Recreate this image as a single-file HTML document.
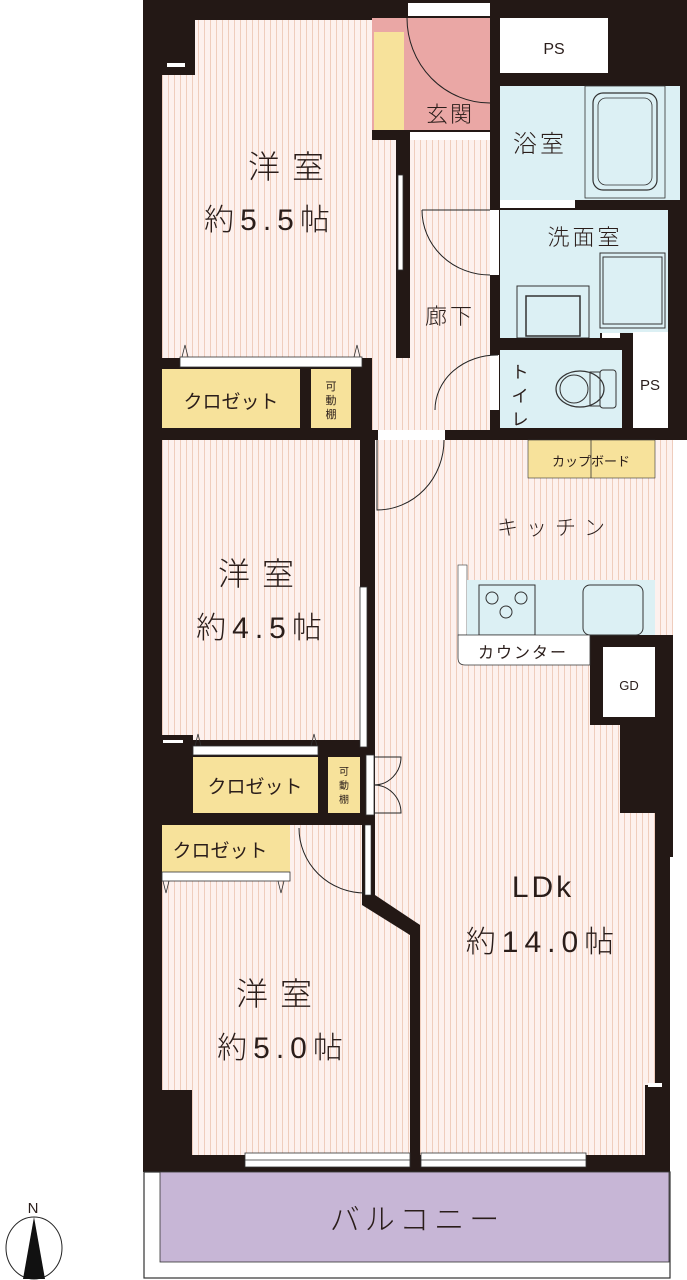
<!DOCTYPE html>
<html><head><meta charset="utf-8"><style>
html,body{margin:0;padding:0;background:#fff;}
svg{display:block;}
text{font-family:"Liberation Sans","Noto Sans CJK JP",sans-serif;fill:#2a1d1a;}
.big{font-weight:300;letter-spacing:6px;}
</style></head><body>
<svg width="687" height="1280" viewBox="0 0 687 1280" xmlns="http://www.w3.org/2000/svg">
<defs>
<pattern id="st" width="6" height="10" patternUnits="userSpaceOnUse">
<rect width="6" height="10" fill="#fdf1ee"/><rect x="0" width="1" height="10" fill="#efcdbd"/>
</pattern>
</defs>
<rect x="143" y="0" width="544" height="1172" fill="#231815"/>
<rect x="673" y="440" width="14" height="417" fill="#fff"/>
<rect x="670" y="857" width="17" height="315" fill="#fff"/>
<rect x="655" y="857" width="15" height="315" fill="#231815"/>
<polygon points="162,75 195,75 195,20 372,20 372,140 396,140 396,358 162,358" fill="url(#st)"/>
<rect x="167" y="63" width="18" height="4" fill="#fff"/>
<rect x="398" y="175" width="5" height="95" fill="#fff" stroke="#333" stroke-width="0.8"/>
<rect x="180" y="357" width="182" height="10" fill="#fff" stroke="#333" stroke-width="0.8"/>
<path d="M182,357 l3,-12 l3,12 M354,357 l3,-12 l3,12" fill="none" stroke="#333" stroke-width="0.8"/>
<rect x="162" y="369" width="138" height="59" fill="#f7e29b"/>
<rect x="311" y="369" width="40" height="59" fill="#f7e29b"/>
<text x="231" y="408" font-size="19" text-anchor="middle">クロゼット</text>
<text x="331" y="390" font-size="11" text-anchor="middle">可</text>
<text x="331" y="404" font-size="11" text-anchor="middle">動</text>
<text x="331" y="418" font-size="11" text-anchor="middle">棚</text>
<polygon points="410,140 490,140 490,430 372,430 372,358 410,358" fill="url(#st)"/>
<rect x="372" y="18" width="118" height="112" fill="#eaa7a5"/>
<rect x="374" y="32" width="30" height="98" fill="#f7e29b"/>
<rect x="408" y="3" width="82" height="13" fill="#fff"/>
<rect x="410" y="132" width="80" height="8" fill="#fff"/>
<path d="M407,18 A83,85 0 0 0 490,103" fill="none" stroke="#222" stroke-width="1"/>
<text x="450" y="122" font-size="22" text-anchor="middle" class="big" style="letter-spacing:2px">玄関</text>
<text x="292" y="178" font-size="32" text-anchor="middle" class="big" style="letter-spacing:12px">洋室</text>
<text x="270" y="230" font-size="30" text-anchor="middle" class="big">約5.5帖</text>
<text x="450" y="324" font-size="22" text-anchor="middle" class="big" style="letter-spacing:3px">廊下</text>
<rect x="490" y="210" width="9" height="65" fill="#fff"/>
<path d="M422,210 L490,210 M422,210 A68,65 0 0 0 490,275" fill="none" stroke="#222" stroke-width="1"/>
<rect x="500" y="18" width="108" height="55" fill="#fff"/>
<text x="554" y="54" font-size="16" text-anchor="middle">PS</text>
<rect x="500" y="86" width="180" height="114" fill="#dcf0f4"/>
<rect x="585" y="86" width="80" height="112" fill="#dcf0f4" stroke="#333" stroke-width="0.8"/>
<rect x="593" y="93" width="64" height="97" rx="10" fill="none" stroke="#333" stroke-width="1.2"/>
<rect x="598" y="98" width="54" height="87" rx="8" fill="none" stroke="#333" stroke-width="0.8"/>
<rect x="500" y="200" width="75" height="8" fill="#fff"/>
<text x="540" y="152" font-size="24" text-anchor="middle" class="big" style="letter-spacing:3px">浴室</text>
<rect x="500" y="210" width="168" height="128" fill="#dcf0f4"/>
<text x="585" y="245" font-size="22" text-anchor="middle" class="big" style="letter-spacing:3px">洗面室</text>
<rect x="600" y="253" width="65" height="75" fill="none" stroke="#333" stroke-width="1"/>
<rect x="603" y="257" width="59" height="67" fill="none" stroke="#333" stroke-width="1"/>
<rect x="517" y="286" width="72" height="52" fill="none" stroke="#333" stroke-width="1"/>
<rect x="526" y="296" width="54" height="40" fill="none" stroke="#333" stroke-width="1.5"/>
<rect x="600" y="333" width="68" height="12" fill="#231815"/>
<rect x="602" y="333" width="18" height="6" fill="#fff"/>
<rect x="500" y="338" width="168" height="12" fill="#231815"/>
<rect x="500" y="350" width="122" height="78" fill="#dcf0f4"/>
<rect x="490" y="355" width="9" height="55" fill="#fff"/>
<path d="M435,410 A62,55 0 0 1 498,355" fill="none" stroke="#222" stroke-width="1"/>
<ellipse cx="580" cy="389" rx="24" ry="18" fill="none" stroke="#333" stroke-width="1.2"/>
<circle cx="574" cy="389" r="14" fill="none" stroke="#333" stroke-width="1"/>
<rect x="590" y="372" width="10" height="34" fill="none" stroke="#333"/>
<rect x="600" y="370" width="16" height="38" rx="3" fill="none" stroke="#333"/>
<text x="520" y="378" font-size="17" text-anchor="middle">ト</text>
<text x="520" y="402" font-size="17" text-anchor="middle">イ</text>
<text x="520" y="425" font-size="17" text-anchor="middle">レ</text>
<rect x="633" y="332" width="35" height="96" fill="#fff"/>
<text x="650" y="390" font-size="15" text-anchor="middle">PS</text>
<rect x="162" y="440" width="198" height="300" fill="url(#st)"/>
<rect x="360" y="587" width="7" height="160" fill="#fff" stroke="#333" stroke-width="0.8"/>
<text x="262" y="585" font-size="32" text-anchor="middle" class="big" style="letter-spacing:12px">洋室</text>
<text x="262" y="638" font-size="30" text-anchor="middle" class="big">約4.5帖</text>
<rect x="162" y="735" width="31" height="80" fill="#231815"/>
<rect x="163" y="740" width="20" height="3" fill="#fff"/>
<rect x="193" y="746" width="125" height="9" fill="#fff" stroke="#333" stroke-width="0.8"/>
<path d="M195,746 l3,-12 l3,12 M311,746 l3,-12 l3,12" fill="none" stroke="#333" stroke-width="0.8"/>
<rect x="193" y="757" width="125" height="56" fill="#f7e29b"/>
<rect x="328" y="757" width="32" height="56" fill="#f7e29b"/>
<text x="255" y="793" font-size="19" text-anchor="middle">クロゼット</text>
<text x="344" y="775" font-size="10" text-anchor="middle">可</text>
<text x="344" y="789" font-size="10" text-anchor="middle">動</text>
<text x="344" y="803" font-size="10" text-anchor="middle">棚</text>
<polygon points="375,440 673,440 673,635 590,635 590,725 620,725 620,813 655,813 655,1155 420,1155 420,925 375,895" fill="url(#st)"/>
<rect x="645" y="1085" width="10" height="70" fill="#231815"/>
<rect x="378" y="430" width="67" height="10" fill="#fff"/>
<path d="M377,440 L377,510 A67,70 0 0 0 444,440" fill="none" stroke="#222" stroke-width="1"/>
<rect x="366" y="755" width="8" height="60" fill="#fff" stroke="#333" stroke-width="0.8"/>
<path d="M374,757 L401,757 A27,28 0 0 1 374,785 A27,28 0 0 1 401,813 L374,813" fill="none" stroke="#222" stroke-width="1"/>
<rect x="528" y="440" width="127" height="38" fill="#f7e29b" stroke="#333" stroke-width="0.6"/>
<line x1="591" y1="440" x2="591" y2="478" stroke="#333" stroke-width="0.8"/>
<text x="591" y="466" font-size="13" text-anchor="middle">カップボード</text>
<text x="555" y="535" font-size="21" text-anchor="middle" class="big" style="letter-spacing:8px">キッチン</text>
<rect x="458" y="565" width="9" height="70" fill="#fff" stroke="#333" stroke-width="0.6"/>
<rect x="467" y="580" width="188" height="55" fill="#dcf0f4"/>
<rect x="479" y="585" width="56" height="50" fill="none" stroke="#333"/>
<circle cx="492" cy="598" r="6" fill="none" stroke="#333"/><circle cx="521" cy="598" r="6" fill="none" stroke="#333"/><circle cx="506" cy="612" r="6" fill="none" stroke="#333"/>
<rect x="583" y="585" width="60" height="50" rx="7" fill="none" stroke="#333"/>
<path d="M458,635 L590,635 L590,665 L465,665 Q458,665 458,658 Z" fill="#fff" stroke="#333" stroke-width="0.8"/>
<text x="523" y="658" font-size="16" text-anchor="middle" style="letter-spacing:2px">カウンター</text>
<rect x="603" y="647" width="52" height="70" fill="#fff"/>
<text x="629" y="690" font-size="13" text-anchor="middle">GD</text>
<text x="543" y="897" font-size="30" text-anchor="middle" class="big" style="letter-spacing:3px">LDk</text>
<text x="543" y="952" font-size="30" text-anchor="middle" class="big">約14.0帖</text>
<rect x="648" y="1083" width="14" height="4" fill="#fff"/>
<polygon points="162,880 290,880 290,825 365,825 365,905 410,935 410,1155 192,1155 192,1090 162,1090" fill="url(#st)"/>
<rect x="162" y="825" width="128" height="47" fill="#f7e29b"/>
<rect x="162" y="872" width="128" height="9" fill="#fff" stroke="#333" stroke-width="0.8"/>
<path d="M163,881 l3,12 l3,-12 M278,881 l3,12 l3,-12" fill="none" stroke="#333" stroke-width="0.8"/>
<text x="220" y="857" font-size="19" text-anchor="middle">クロゼット</text>
<polygon points="362,825 372,825 372,895 420,925 420,1160 410,1160 410,935 362,905" fill="#231815"/>
<rect x="365" y="825" width="6" height="70" fill="#fff" stroke="#333" stroke-width="0.6"/>
<path d="M299,828 A66,65 0 0 0 365,893" fill="none" stroke="#222" stroke-width="1"/>
<text x="280" y="1005" font-size="32" text-anchor="middle" class="big" style="letter-spacing:12px">洋室</text>
<text x="283" y="1058" font-size="30" text-anchor="middle" class="big">約5.0帖</text>
<rect x="245" y="1153" width="165" height="14" fill="#fff" stroke="#333" stroke-width="0.8"/>
<line x1="245" y1="1160" x2="410" y2="1160" stroke="#333" stroke-width="0.8"/>
<rect x="421" y="1153" width="165" height="14" fill="#fff" stroke="#333" stroke-width="0.8"/>
<line x1="421" y1="1160" x2="586" y2="1160" stroke="#333" stroke-width="0.8"/>
<rect x="144" y="1172" width="526" height="106" fill="#fff" stroke="#333" stroke-width="1.2"/>
<rect x="160" y="1172" width="509" height="90" fill="#c7b6d6" stroke="#333" stroke-width="0.8"/>
<text x="417" y="1230" font-size="30" text-anchor="middle" class="big" style="letter-spacing:5px">バルコニー</text>
<text x="33" y="1213" font-size="15" text-anchor="middle">N</text>
<ellipse cx="34" cy="1248" rx="28" ry="31" fill="#fff" stroke="#222" stroke-width="1"/>
<polygon points="34,1217 23,1279 45,1279" fill="#111"/>
</svg>
</body></html>
